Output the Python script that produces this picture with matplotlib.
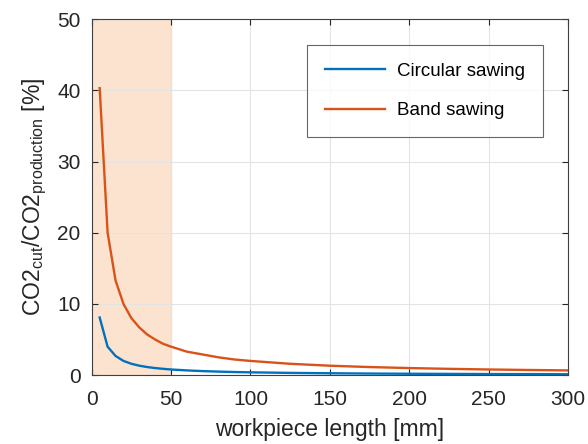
import numpy as np
import matplotlib.pyplot as plt

plt.rcParams['font.family'] = ['Liberation Sans', 'DejaVu Sans']

# workpiece length [mm] and read-off ratios [%]
length = [5, 10, 15, 20, 25, 30, 35, 40, 45, 50, 60, 70, 80, 90, 100,
          125, 150, 175, 200, 225, 250, 275, 300]
band = [40.3, 20.0, 13.3, 10.0, 8.0, 6.7, 5.7, 5.0, 4.4, 4.0, 3.3, 2.9, 2.5, 2.2, 2.0,
        1.6, 1.33, 1.14, 1.0, 0.89, 0.8, 0.73, 0.67]
circular = [8.1, 4.0, 2.7, 2.0, 1.6, 1.33, 1.14, 1.0, 0.89, 0.8, 0.67, 0.57, 0.5, 0.44, 0.4,
            0.32, 0.27, 0.23, 0.2, 0.18, 0.16, 0.15, 0.13]
shade_range = (0, 50)

fig = plt.figure(figsize=(5.88, 4.44), dpi=100)
ax = fig.add_axes([0.156, 0.155, 0.81, 0.802])

ax.axvspan(*shade_range, facecolor='#fce3d0', edgecolor='#d9bca8', linewidth=0.8, zorder=0)
ax.plot(length, circular, color='#0072BD', linewidth=1.7, label='Circular sawing')
ax.plot(length, band, color='#D95319', linewidth=1.7, label='Band sawing')

ax.set_xlim(0, 300)
ax.set_ylim(0, 50)
ax.set_xticks(np.arange(0, 301, 50))
ax.set_yticks(np.arange(0, 51, 10))
ax.grid(True, color='#e3e3e3', linewidth=0.8)
ax.set_axisbelow(True)
for s in ax.spines.values():
    s.set_color('#404040')
    s.set_linewidth(0.8)
ax.tick_params(labelsize=15, colors='#262626', direction='in', length=4, top=True, right=True)
ax.tick_params(axis='x', pad=11)
ax.tick_params(axis='y', pad=8)

ax.set_xlabel('workpiece length [mm]', fontsize=16.5, color='#262626', labelpad=6)
ax.set_ylabel(r'CO2$_{\mathregular{cut}}$/CO2$_{\mathregular{production}}$ [%]', fontsize=16.5,
              color='#262626', labelpad=6)

leg = ax.legend(loc='upper right', bbox_to_anchor=(0.9475, 0.927), borderaxespad=0,
                fontsize=13.5, frameon=True, fancybox=False, edgecolor='#404040',
                handlelength=3.2, borderpad=0.95, labelspacing=1.17, handletextpad=0.65)
leg.get_frame().set_linewidth(0.8)

fig.savefig('out.png', dpi=100)
